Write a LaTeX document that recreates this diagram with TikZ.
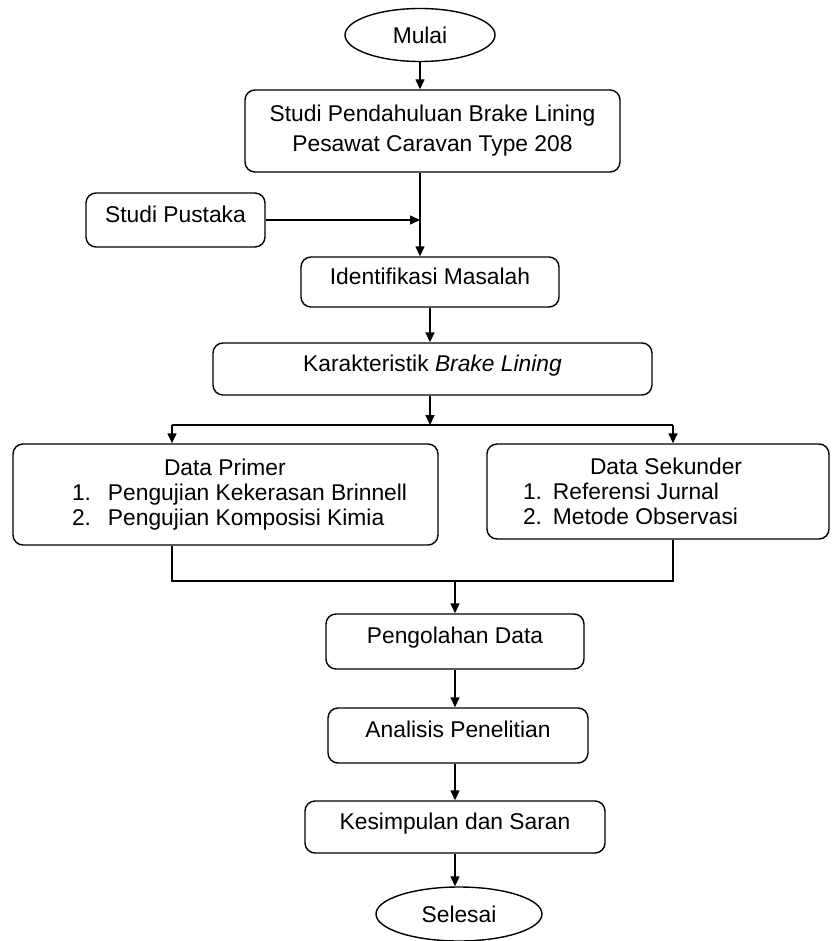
\documentclass[tikz,border=0pt]{standalone}
\usepackage{fontspec}
\setmainfont{Liberation Sans}
\usepackage{tikz}
\usetikzlibrary{arrows.meta, shapes.geometric, calc}

\tikzset{
	kotak/.style={draw, rounded corners=5pt, line width=0.7pt, inner sep=0pt},
	proses/.style={kotak, text height=9pt, text depth=7pt},
	terminal/.style={draw, ellipse, line width=0.7pt, inner sep=0pt},
	panah/.style={line width=0.7pt, -{Triangle[length=5pt,width=4.5pt]}},
	garis/.style={line width=0.7pt}
}

\begin{document}
\begin{tikzpicture}[x=0.5pt, y=-0.5pt, font=\fontsize{11.4}{13}\selectfont]
				\useasboundingbox (0,0) rectangle (831,941);
				\node[terminal, minimum width=75pt, minimum height=26.5pt] (mulai) at (420,35) {Mulai};
				\node[kotak, minimum width=187.5pt, minimum height=41pt, align=center, font=\fontsize{11.4}{15}\selectfont] (studi) at (432.5,131) {Studi Pendahuluan Brake Lining\\Pesawat Caravan Type 208};
				\node[proses, minimum width=89.5pt, minimum height=27pt] (pustaka) at (175.5,220) {Studi Pustaka};
				\node[proses, minimum width=129pt, minimum height=25pt] (identifikasi) at (430,282) {Identifikasi Masalah};
				\node[proses, minimum width=219.5pt, minimum height=26pt] (karakteristik) at (432.5,369) {Karakteristik \textit{Brake Lining}};
				\node[kotak, minimum width=212.5pt, minimum height=50.5pt, font=\fontsize{11.4}{12.5}\selectfont] (primer) at (225.5,494.5)
					{\parbox{212.5pt}{\raggedright\hspace*{75.5pt}Data Primer\\
					\hspace*{29.5pt}\makebox[18pt][l]{1.}Pengujian Kekerasan Brinnell\\
					\hspace*{29.5pt}\makebox[18pt][l]{2.}Pengujian Komposisi Kimia}};
				\node[kotak, minimum width=171pt, minimum height=47.5pt, font=\fontsize{11.4}{12.5}\selectfont] (sekunder) at (658,491.5)
					{\parbox{171pt}{\raggedright\hspace*{51.5pt}Data Sekunder\\
					\hspace*{18pt}\makebox[15pt][l]{1.}Referensi Jurnal\\
					\hspace*{18pt}\makebox[15pt][l]{2.}Metode Observasi}};
				\node[proses, minimum width=129pt, minimum height=27.5pt] (pengolahan) at (455,641.5) {Pengolahan Data};
				\node[proses, minimum width=130pt, minimum height=27.5pt] (analisis) at (458,735.5) {Analisis Penelitian};
				\node[proses, minimum width=150pt, minimum height=26pt] (kesimpulan) at (455,827) {Kesimpulan dan Saran};
				\node[terminal, minimum width=83pt, minimum height=27pt] (selesai) at (459,914) {Selesai};

				\coordinate (cabang) at (430,425);
				\coordinate (kiri) at (172,425);
				\coordinate (kanan) at (673,425);
				\coordinate (gabung) at (455,581);

				\draw[panah] (mulai.south) -- (mulai.south |- studi.north);
				\draw[panah] (studi.south -| mulai) -- (mulai |- identifikasi.north);
				\draw[panah] (pustaka.east) -- (pustaka.east -| mulai);
				\draw[panah] (identifikasi.south) -- (identifikasi.south |- karakteristik.north);
				\draw[panah] (karakteristik.south -| cabang) -- (cabang);
				\draw[garis] (kiri) -- (kanan);
				\draw[panah] (kiri) -- (kiri |- primer.north);
				\draw[panah] (kanan) -- (kanan |- sekunder.north);
				\draw[garis] (primer.south -| kiri) |- (gabung) -| (sekunder.south -| kanan);
				\draw[panah] (gabung) -- (pengolahan.north);
				\draw[panah] (pengolahan.south) -- (pengolahan.south |- analisis.north);
				\draw[panah] (analisis.south -| kesimpulan) -- (kesimpulan.north);
				\draw[panah] (kesimpulan.south) -- (kesimpulan.south |- selesai.north);
			\end{tikzpicture}
\end{document}
